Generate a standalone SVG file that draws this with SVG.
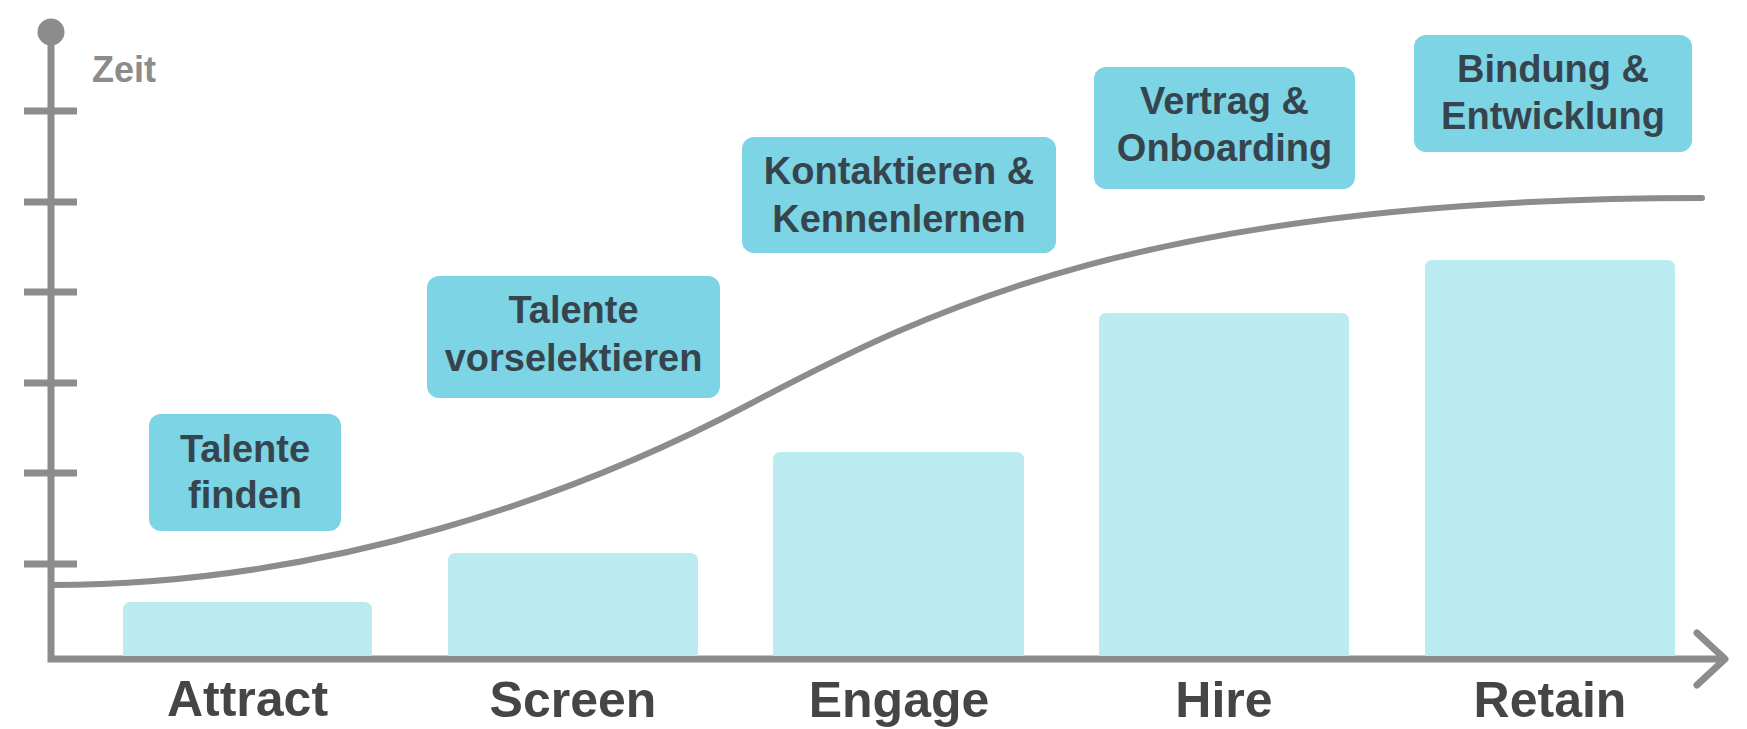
<svg xmlns="http://www.w3.org/2000/svg" width="1747" height="729" viewBox="0 0 1747 729">
  <style>
    .bar { fill: #b9ebf0; }
    .box { fill: #7dd4e4; }
    .boxtxt { font-family: "Liberation Sans", Arial, sans-serif; font-weight: bold; font-size: 38px; fill: #36454d; text-anchor: middle; }
    .stage { font-family: "Liberation Sans", Arial, sans-serif; font-weight: bold; font-size: 50px; fill: #444547; text-anchor: middle; }
    .axis { fill: none; stroke: #8c8c8c; stroke-width: 7; }
    .curve { fill: none; stroke: #8c8c8c; stroke-width: 6; stroke-linecap: round; }
    .zeit { font-family: "Liberation Sans", Arial, sans-serif; font-weight: bold; font-size: 36px; fill: #8c8c8c; }
  </style>
  <rect width="1747" height="729" fill="#ffffff"/>

  <g id="axes">
    <circle cx="51" cy="32" r="13.5" fill="#8c8c8c"/>
    <path class="axis" d="M51,32 V659 H1724"/>
    <path class="axis" d="M24,111 H77 M24,202 H77 M24,292 H77 M24,383 H77 M24,473 H77 M24,564 H77"/>
    <path class="axis" d="M1697,633 L1725,659 L1697,685" stroke-linecap="round" stroke-linejoin="round"/>
    <text class="zeit" x="92" y="82">Zeit</text>
  </g>

  <g id="bar-attract"><path class="bar" d="M123,656 V610 Q123,602 131,602 H364 Q372,602 372,610 V656 Z"/></g>
  <g id="bar-screen"><path class="bar" d="M448,656 V561 Q448,553 456,553 H690 Q698,553 698,561 V656 Z"/></g>
  <g id="bar-engage"><path class="bar" d="M773,656 V460 Q773,452 781,452 H1016 Q1024,452 1024,460 V656 Z"/></g>
  <g id="bar-hire"><path class="bar" d="M1099,656 V321 Q1099,313 1107,313 H1341 Q1349,313 1349,321 V656 Z"/></g>
  <g id="bar-retain"><path class="bar" d="M1425,656 V268 Q1425,260 1433,260 H1667 Q1675,260 1675,268 V656 Z"/></g>

  <g id="connectors">
    <path class="curve" d="M51,585 C330,585 580,494 750,404 C930,309 1150,198 1702,198"/>
  </g>

  <g id="box-talente-finden">
    <rect class="box" x="149" y="414" width="192" height="117" rx="12"/>
    <text class="boxtxt" x="245" y="462">Talente</text>
    <text class="boxtxt" x="245" y="508">finden</text>
  </g>
  <g id="box-talente-vorselektieren">
    <rect class="box" x="427" y="276" width="293" height="122" rx="12"/>
    <text class="boxtxt" x="573.5" y="323">Talente</text>
    <text class="boxtxt" x="573.5" y="371">vorselektieren</text>
  </g>
  <g id="box-kontaktieren">
    <rect class="box" x="742" y="137" width="314" height="116" rx="12"/>
    <text class="boxtxt" x="899" y="184">Kontaktieren &amp;</text>
    <text class="boxtxt" x="899" y="232">Kennenlernen</text>
  </g>
  <g id="box-vertrag">
    <rect class="box" x="1094" y="67" width="261" height="122" rx="12"/>
    <text class="boxtxt" x="1224.5" y="114">Vertrag &amp;</text>
    <text class="boxtxt" x="1224.5" y="161">Onboarding</text>
  </g>
  <g id="box-bindung">
    <rect class="box" x="1414" y="35" width="278" height="117" rx="12"/>
    <text class="boxtxt" x="1553" y="82">Bindung &amp;</text>
    <text class="boxtxt" x="1553" y="129">Entwicklung</text>
  </g>

  <g id="stage-labels">
    <text class="stage" x="247.5" y="716">Attract</text>
    <text class="stage" x="573" y="717">Screen</text>
    <text class="stage" x="899" y="717">Engage</text>
    <text class="stage" x="1224" y="717">Hire</text>
    <text class="stage" x="1550" y="717">Retain</text>
  </g>
</svg>
